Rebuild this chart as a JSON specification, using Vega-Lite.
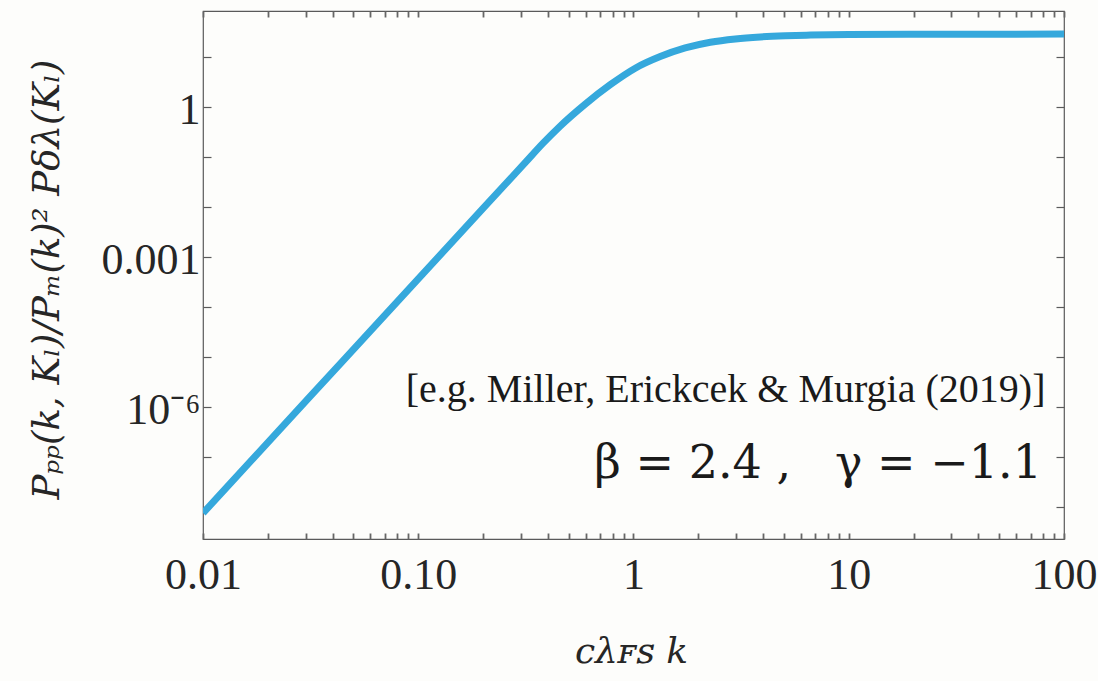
{
  "$schema": "https://vega.github.io/schema/vega-lite/v6.json",
  "width": 861,
  "height": 528,
  "autosize": {"type": "none"},
  "padding": {"left": 203, "top": 11, "right": 34, "bottom": 142},
  "background": "#fdfdfb",
  "config": {
    "view": {"stroke": "#5a5a5a", "strokeWidth": 1.2},
    "axis": {"domain": false, "grid": false, "ticks": true, "tickOpacity": 1, "tickColor": "#5a5a5a", "tickWidth": 1.2, "labelColor": "#262626", "titleColor": "#262626", "labelFont": "Liberation Serif", "titleFont": "DejaVu Serif", "labelFlush": false, "labelOverlap": false}
  },
  "data": {
    "values": [
      {"k": 0.01, "P": 7.586e-9},
      {"k": 0.03162, "P": 1.671e-6},
      {"k": 0.1, "P": 3.681e-4},
      {"k": 0.3162, "P": 0.0804},
      {"k": 0.3802, "P": 0.1905},
      {"k": 0.456, "P": 0.417},
      {"k": 0.596, "P": 1.148},
      {"k": 0.780, "P": 2.818},
      {"k": 1.019, "P": 6.026},
      {"k": 1.331, "P": 10.28},
      {"k": 1.738, "P": 15.31},
      {"k": 2.275, "P": 19.95},
      {"k": 2.972, "P": 23.23},
      {"k": 3.882, "P": 25.41},
      {"k": 5.07, "P": 26.79},
      {"k": 6.64, "P": 27.67},
      {"k": 10, "P": 28.31},
      {"k": 19.95, "P": 28.71},
      {"k": 100, "P": 28.97}
    ]
  },
  "layer": [
    {
      "mark": {"type": "line", "color": "#35a8dc", "strokeWidth": 7, "interpolate": "monotone", "clip": true},
      "encoding": {
        "x": {
          "field": "k", "type": "quantitative",
          "scale": {"type": "log", "domain": [0.01, 100], "nice": false},
          "axis": {
            "orient": "bottom",
            "values": [0.01,0.02,0.03,0.04,0.05,0.06,0.07,0.08,0.09,0.1,0.2,0.3,0.4,0.5,0.6,0.7,0.8,0.9,1,2,3,4,5,6,7,8,9,10,20,30,40,50,60,70,80,90,100],
            "labelExpr": "abs(log(datum.value)/LN10 - round(log(datum.value)/LN10)) > 0.001 ? '' : (round(log(datum.value)/LN10) == -2 ? '0.01' : round(log(datum.value)/LN10) == -1 ? '0.10' : round(log(datum.value)/LN10) == 0 ? '1' : round(log(datum.value)/LN10) == 1 ? '10' : '100')",
            "ticks": true,
            "tickSize": -6,
            "tickColor": "#666666",
            "tickWidth": 1.8,
            "labelFontSize": 44,
            "labelPadding": 20,
            "title": "cλꜰꜱ k",
            "titleFontSize": 36,
            "titleFontStyle": "italic",
            "titleFontWeight": "normal",
            "titleBaseline": "alphabetic",
            "titleY": 123,
            "titleX": 428
          }
        },
        "y": {
          "field": "P", "type": "quantitative",
          "scale": {"type": "log", "domain": [2.3e-9, 84], "nice": false},
          "axis": {
            "orient": "left",
            "values": [1e-8, 1e-7, 1e-6, 1e-5, 1e-4, 1e-3, 1e-2, 1e-1, 1, 10],
            "labelExpr": "round(log(datum.value)/LN10) == 0 ? '1' : round(log(datum.value)/LN10) == -3 ? '0.001' : round(log(datum.value)/LN10) == -6 ? '10⁻⁶' : ''",
            "tickSize": -8,
            "labelFontSize": 44,
            "labelPadding": 11,
            "labelOffset": 3,
            "title": "Pₚₚ(k, Kₗ)/Pₘ(k)² Pδλ(Kₗ)",
            "titleFontSize": 37,
            "titleFontStyle": "italic",
            "titleFontWeight": "normal",
            "titleBaseline": "alphabetic",
            "titleAngle": -90,
            "titleX": -145,
            "titleY": 268
          }
        }
      }
    },
    {
      "mark": {"type": "line", "opacity": 0},
      "encoding": {
        "x": {
          "field": "k", "type": "quantitative",
          "scale": {"type": "log", "domain": [0.01, 100], "nice": false},
          "axis": {
            "orient": "top",
            "values": [0.01,0.02,0.03,0.04,0.05,0.06,0.07,0.08,0.09,0.1,0.2,0.3,0.4,0.5,0.6,0.7,0.8,0.9,1,2,3,4,5,6,7,8,9,10,20,30,40,50,60,70,80,90,100],
            "labels": false,
            "ticks": true,
            "title": null,
            "tickSize": -6,
            "tickWidth": 1.8,
            "tickColor": "#666666"
          }
        },
        "y": {
          "field": "P", "type": "quantitative",
          "scale": {"type": "log", "domain": [2.3e-9, 84], "nice": false},
          "axis": {
            "orient": "right",
            "values": [1e-8, 1e-7, 1e-6, 1e-5, 1e-4, 1e-3, 1e-2, 1e-1, 1, 10],
            "labels": false,
            "title": null,
            "tickSize": -8
          }
        }
      }
    },
    {
      "data": {"values": [{"k": 82, "P": 2.2e-6, "label": "[e.g. Miller, Erickcek & Murgia (2019)]"}]},
      "mark": {"type": "text", "align": "right", "baseline": "middle", "font": "Liberation Serif", "fontSize": 40, "color": "#1a1a1a"},
      "encoding": {
        "x": {"field": "k", "type": "quantitative", "axis": null},
        "y": {"field": "P", "type": "quantitative", "axis": null},
        "text": {"field": "label"}
      }
    },
    {
      "data": {"values": [{"k": 79, "P": 7.4e-8, "label": "β = 2.4 ,\u00a0\u00a0\u00a0γ = −1.1"}]},
      "mark": {"type": "text", "align": "right", "baseline": "middle", "font": "DejaVu Serif", "fontSize": 46, "color": "#1a1a1a"},
      "encoding": {
        "x": {"field": "k", "type": "quantitative", "axis": null},
        "y": {"field": "P", "type": "quantitative", "axis": null},
        "text": {"field": "label"}
      }
    }
  ],
  "resolve": {"axis": {"x": "independent", "y": "independent"}}
}
